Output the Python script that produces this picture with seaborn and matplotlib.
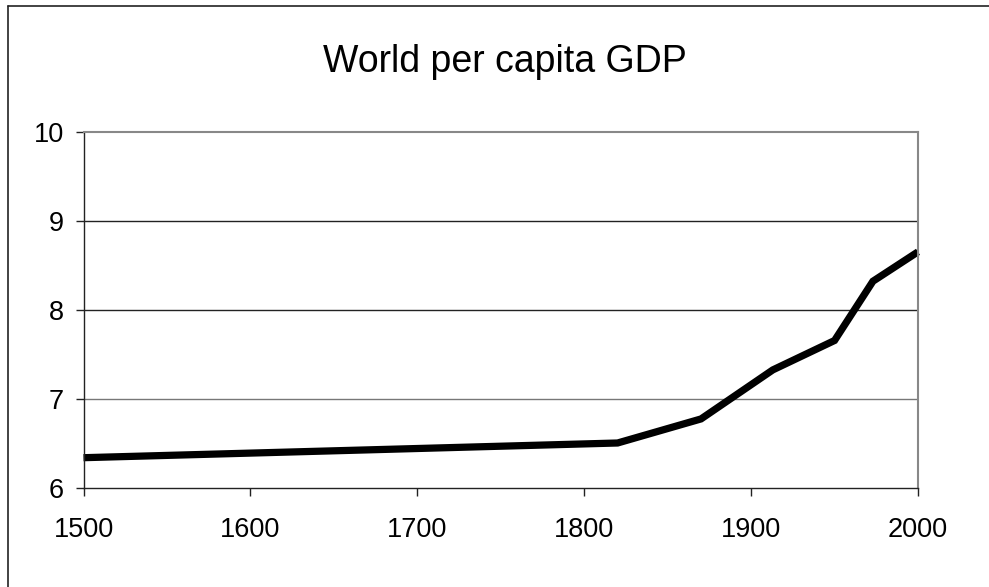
import seaborn as sns
import matplotlib.pyplot as plt
import pandas as pd
from matplotlib.lines import Line2D

# Données (log du PIB par habitant mondial)
years = [1500, 1820, 1870, 1913, 1950, 1973, 2000]
log_gdp = [6.34, 6.505, 6.775, 7.325, 7.655, 8.32, 8.65]

df = pd.DataFrame({"year": years, "log_gdp": log_gdp})

sns.set_style("white")
plt.rcParams["font.family"] = ["Liberation Sans", "DejaVu Sans"]
plt.rcParams["text.color"] = "black"
plt.rcParams["xtick.color"] = "black"
plt.rcParams["ytick.color"] = "black"

W, H = 989, 587
fig = plt.figure(figsize=(W / 100, H / 100), dpi=100)
ax = fig.add_axes([83.5 / W, 1 - 488 / H, (918 - 83.5) / W, (488 - 131.5) / H])

sns.lineplot(data=df, x="year", y="log_gdp", ax=ax, color="black", linewidth=5.2,
             solid_joinstyle="miter", solid_capstyle="butt", clip_on=False)

ax.set_xlim(1500, 2000)
ax.set_ylim(6, 10)
ax.set_xticks([1500, 1600, 1700, 1800, 1900, 2000])
ax.set_yticks([6, 7, 8, 9, 10])
ax.set_xlabel("")
ax.set_ylabel("")

# grille horizontale
for v in [7, 8, 9]:
    ax.axhline(v, color="#222222" if v != 7 else "#777777", linewidth=1.0, zorder=0)

for side in ["top", "right"]:
    ax.spines[side].set_color("#888888")
    ax.spines[side].set_linewidth(1.5)
for side in ["left", "bottom"]:
    ax.spines[side].set_color("#222222")
    ax.spines[side].set_linewidth(1.0)

ax.tick_params(axis="both", direction="out", length=6, width=1, color="#222222",
               labelsize=19.5, bottom=True, left=True)
ax.tick_params(axis="x", pad=15)
ax.tick_params(axis="y", pad=8)

fig.text(505 / W, 1 - 71.7 / H, "World per capita GDP", ha="center", va="baseline",
         fontsize=27)

# cadre (haut et gauche visibles)
fig.lines.append(Line2D([7.5 / W, 1], [1 - 5.5 / H, 1 - 5.5 / H], transform=fig.transFigure,
                        color="#222222", linewidth=1.2))
fig.lines.append(Line2D([7.5 / W, 7.5 / W], [0, 1 - 5.5 / H], transform=fig.transFigure,
                        color="#222222", linewidth=1.2))

plt.savefig("out.png", dpi=100)
